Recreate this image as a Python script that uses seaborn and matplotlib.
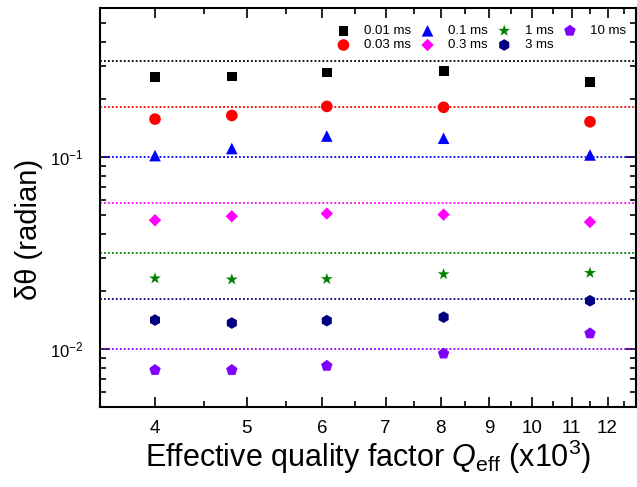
import matplotlib
matplotlib.use("Agg")
import matplotlib.pyplot as plt
import matplotlib.ticker as mticker
import seaborn as sns
import pandas as pd

sns.set_style("ticks")
plt.rcParams["font.family"] = ["Liberation Sans", "DejaVu Sans"]
plt.rcParams["mathtext.fontset"] = "custom"
plt.rcParams["mathtext.rm"] = "Liberation Sans"
plt.rcParams["mathtext.it"] = "Liberation Sans:italic"
plt.rcParams["text.color"] = "black"
plt.rcParams["axes.labelcolor"] = "black"
plt.rcParams["xtick.color"] = "black"
plt.rcParams["ytick.color"] = "black"

# data
q_eff = [4.0, 4.82, 6.07, 8.06, 11.5]
labels = ["0.01 ms", "0.03 ms", "0.1 ms", "0.3 ms", "1 ms", "3 ms", "10 ms"]
d_001 = [0.262, 0.263, 0.276, 0.282, 0.247]
d_003 = [0.158, 0.165, 0.184, 0.182, 0.153]
d_01 = [0.102, 0.111, 0.129, 0.1256, 0.1028]
d_03 = [0.047, 0.0493, 0.0509, 0.0503, 0.046]
d_1 = [0.0234, 0.0231, 0.0232, 0.0246, 0.0250]
d_3 = [0.0142, 0.0137, 0.0141, 0.0147, 0.0179]
d_10 = [0.0078, 0.0078, 0.0082, 0.0095, 0.0121]
limits = [0.316, 0.183, 0.1, 0.0577, 0.0316, 0.0183, 0.01]

colors = ["#000000", "#ff0000", "#0000ff", "#ff00ff", "#008000", "#000080", "#8000ff"]
markers = ["s", "o", "^", "D", "*", "h", "p"]
sizes = [50, 70, 70, 40, 80, 70, 75]

series = [d_001, d_003, d_01, d_03, d_1, d_3, d_10]
rows = []
for lab, vals in zip(labels, series):
    for q, v in zip(q_eff, vals):
        rows.append({"Q": q, "dtheta": v, "tau": lab})
df = pd.DataFrame(rows)

fig = plt.figure(figsize=(6.37, 4.87), dpi=100)
ax = fig.add_axes([0.157, 0.164, 0.841, 0.82])

for lab, c, lim in zip(labels, colors, limits):
    ax.axhline(lim, color=c, linestyle=(0, (1, 1.2)), linewidth=1.3, zorder=1)

for lab, c, m, s in zip(labels, colors, markers, sizes):
    sub = df[df["tau"] == lab]
    sns.scatterplot(data=sub, x="Q", y="dtheta", color=c, marker=m, s=s,
                    edgecolor="none", label=lab, ax=ax, zorder=3)

ax.set_xscale("log")
ax.set_yscale("log")
ax.set_xlim(3.5, 12.85)
ax.set_ylim(0.005, 0.6)

xt = [4, 5, 6, 7, 8, 9, 10, 11, 12]
ax.xaxis.set_major_locator(mticker.FixedLocator(xt))
ax.xaxis.set_major_formatter(mticker.FixedFormatter([str(v) for v in xt]))
ax.xaxis.set_minor_locator(mticker.FixedLocator([4.5, 5.5, 6.5, 7.5, 8.5, 9.5, 10.5, 11.5, 12.5]))
ax.xaxis.set_minor_formatter(mticker.NullFormatter())
ax.yaxis.set_major_locator(mticker.FixedLocator([0.01, 0.1]))
ax.yaxis.set_major_formatter(mticker.FixedFormatter([r"$10^{-2}$", r"$10^{-1}$"]))
ax.yaxis.set_minor_locator(mticker.LogLocator(base=10, subs=range(2, 10)))
ax.yaxis.set_minor_formatter(mticker.NullFormatter())

ax.tick_params(which="both", direction="in", top=True, right=True, width=1.2, color="black")
ax.tick_params(which="major", length=7)
ax.tick_params(axis="x", which="major", labelsize=13.5, pad=9)
ax.tick_params(axis="y", which="major", labelsize=12, pad=12)
ax.tick_params(which="minor", length=4)
for sp in ax.spines.values():
    sp.set_linewidth(1.5)
    sp.set_color("black")

ax.set_xlabel(r"Effective quality factor $Q_{\mathrm{eff}}$ (x10$^3$)", fontsize=22, labelpad=1)
ax.set_ylabel("δθ (radian)", fontsize=21)
ax.yaxis.set_label_coords(-0.107, 0.445)

ax.legend(ncol=4, loc="upper right", fontsize=9.5, frameon=False,
          bbox_to_anchor=(1.0, 0.98), columnspacing=0.5, handletextpad=0.8,
          labelspacing=0.15, borderaxespad=0.3, handlelength=1.5)

fig.savefig("out.png", dpi=100)
plt.close(fig)
